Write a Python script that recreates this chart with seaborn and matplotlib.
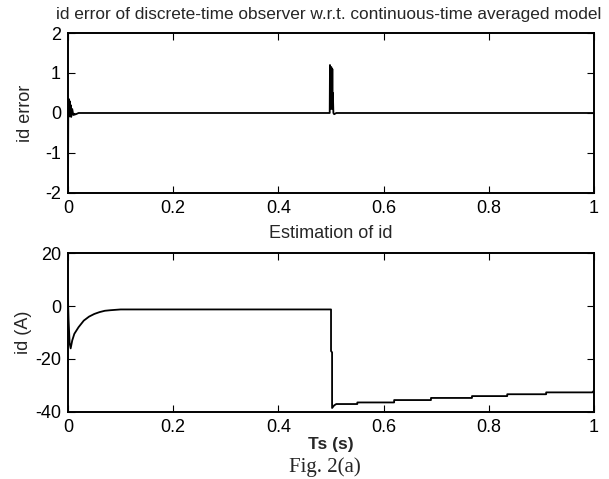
import matplotlib
matplotlib.use("Agg")
import matplotlib.pyplot as plt
import seaborn as sns
import pandas as pd

# ---- data ----
t_err = [0.0, 0.0005, 0.001, 0.0015, 0.002, 0.003, 0.004, 0.005, 0.006, 0.008,
         0.010, 0.015, 0.020, 0.4975, 0.498, 0.499, 0.5005, 0.502, 0.5025, 0.503,
         0.5035, 0.5045, 0.506, 0.510, 1.0]
id_err = [-2.0, 0.30, -0.10, 0.35, -0.05, 0.30, 0.0, 0.20, -0.10, 0.10,
          -0.05, -0.03, 0.0, 0.0, 1.20, 0.10, 1.15, 0.10, 1.10, 0.10,
          0.50, 0.0, -0.03, 0.0, 0.0]

t_id = [0.0, 0.001, 0.003, 0.005, 0.008, 0.012, 0.02, 0.03, 0.04, 0.05,
        0.06, 0.07, 0.08, 0.10, 0.50, 0.50, 0.502, 0.502, 0.506, 0.51,
        0.55, 0.55, 0.62, 0.62, 0.69, 0.69, 0.768, 0.768, 0.835, 0.835,
        0.909, 0.909, 0.997, 1.0]
id_est = [2.0, -5.0, -14.0, -16.0, -13.0, -10.5, -8.0, -5.5, -4.0, -3.0,
          -2.3, -1.8, -1.6, -1.3, -1.3, -17.0, -17.5, -38.5, -37.5, -37.0,
          -37.0, -36.4, -36.4, -35.5, -35.5, -34.7, -34.7, -34.0, -34.0, -33.3,
          -33.3, -32.6, -32.6, -31.9]

x_ticks = [0, 0.2, 0.4, 0.6, 0.8, 1]
x_tick_labels = ["0", "0.2", "0.4", "0.6", "0.8", "1"]
err_ticks = [-2, -1, 0, 1, 2]
id_ticks = [-40, -20, 0, 20]

sns.set_style("ticks")
plt.rcParams["font.family"] = ["Liberation Sans", "DejaVu Sans"]
plt.rcParams["font.size"] = 13

fig = plt.figure(figsize=(6.09, 4.79), dpi=100)
ax1 = fig.add_axes([0.1117, 0.5971, 0.8637, 0.3340])
ax2 = fig.add_axes([0.1117, 0.1399, 0.8637, 0.3319])

df1 = pd.DataFrame({"t": t_err, "e": id_err})
df2 = pd.DataFrame({"t": t_id, "v": id_est})
sns.lineplot(data=df1, x="t", y="e", ax=ax1, color="black", linewidth=1.3,
             sort=False, estimator=None)
sns.lineplot(data=df2, x="t", y="v", ax=ax2, color="black", linewidth=1.3,
             sort=False, estimator=None)

for ax in (ax1, ax2):
    ax.set_xlim(0, 1)
    ax.set_xticks(x_ticks)
    ax.set_xticklabels(x_tick_labels)
    for s in ax.spines.values():
        s.set_visible(True)
        s.set_linewidth(1.4)
        s.set_color("black")
    ax.tick_params(direction="in", length=5, width=0.8, top=True, right=True,
                   labelsize=13, colors="black")
    ax.tick_params(axis="x", pad=5)
    ax.tick_params(axis="y", pad=5)
    ax.set_facecolor("white")

ax1.set_ylim(-2, 2)
ax1.set_yticks(err_ticks)
ax1.set_yticklabels([str(v) for v in err_ticks])
ax1.set_xlabel("")
ax1.set_ylabel("id error", fontsize=13, labelpad=8)
ax1.set_title("id error of discrete-time observer w.r.t. continuous-time averaged model",
              fontsize=12.4, pad=10, x=0.495)

ax2.set_ylim(-40, 20)
ax2.set_yticks(id_ticks)
ax2.set_yticklabels([str(v) for v in id_ticks])
ax2.set_xlabel("Ts (s)", fontsize=12.5, fontweight="bold", labelpad=1)
ax2.set_ylabel("id (A)", fontsize=13, labelpad=2)
ax2.set_title("Estimation of id", fontsize=13, pad=11)

fig.text(0.534, 0.024, "Fig. 2(a)", ha="center", va="center",
         family=["Liberation Serif", "DejaVu Serif"], fontsize=15)

fig.savefig("out.png", dpi=100, facecolor="white")
